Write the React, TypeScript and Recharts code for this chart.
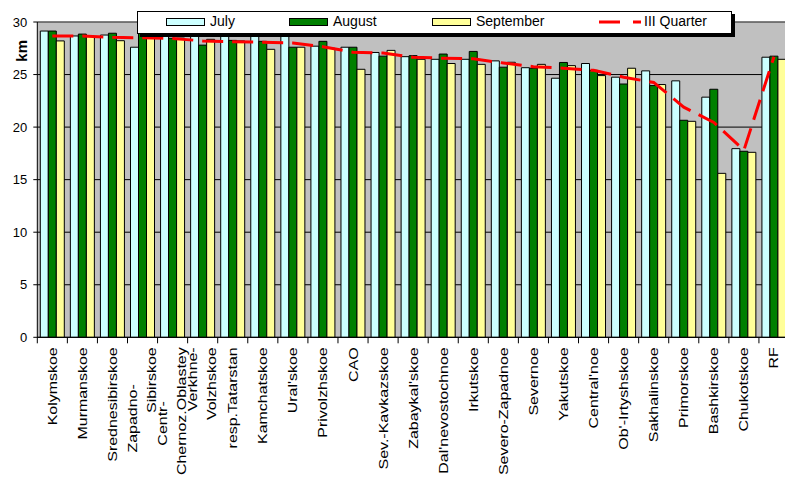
import React from "react";
import {
  ComposedChart,
  Bar,
  Line,
  XAxis,
  YAxis,
  CartesianGrid,
  Legend,
} from "recharts";

const categories = [
  "Kolymskoe", "Murmanskoe", "Srednesibirskoe", "Zapadno-Sibirskoe", "Centr-Chernoz.Oblastey",
  "Verkhne-Volzhskoe", "resp.Tatarstan", "Kamchatskoe", "Ural'skoe", "Privolzhskoe", "CAO",
  "Sev.-Kavkazskoe", "Zabaykal'skoe", "Dal'nevostochnoe", "Irkutskoe", "Severo-Zapadnoe",
  "Severnoe", "Yakutskoe", "Central'noe", "Ob'-Irtyshskoe", "Sakhalinskoe", "Primorskoe",
  "Bashkirskoe", "Chukotskoe", "RF",
];

const tickLabels: string[][] = [
  ["Kolymskoe"], ["Murmanskoe"], ["Srednesibirskoe"], ["Zapadno-", "Sibirskoe"],
  ["Centr-", "Chernoz.Oblastey"], ["Verkhne-", "Volzhskoe"], ["resp.Tatarstan"], ["Kamchatskoe"],
  ["Ural'skoe"], ["Privolzhskoe"], ["CAO"], ["Sev.-Kavkazskoe"], ["Zabaykal'skoe"],
  ["Dal'nevostochnoe"], ["Irkutskoe"], ["Severo-Zapadnoe"], ["Severnoe"], ["Yakutskoe"],
  ["Central'noe"], ["Ob'-Irtyshskoe"], ["Sakhalinskoe"], ["Primorskoe"], ["Bashkirskoe"],
  ["Chukotskoe"], ["RF"],
];

const july = [
  29.14, 28.67, 28.76, 27.6, 28.9, 28.7, 28.8, 28.8, 28.8, 27.7, 27.6, 27.1, 26.7, 26.45, 26.45,
  26.3, 25.65, 24.65, 26.05, 24.75, 25.35, 24.4, 22.85, 17.95, 26.65,
];
const august = [
  29.14, 28.85, 28.93, 28.9, 28.45, 27.8, 28.25, 28.16, 27.6, 28.16, 27.6, 26.75, 26.8, 26.95, 27.2,
  25.7, 25.6, 26.15, 25.4, 24.1, 23.95, 20.65, 23.6, 17.7, 26.75,
];
const september = [
  28.2, 28.62, 28.22, 28.5, 28.47, 28.35, 28.2, 27.4, 27.6, 27.5, 25.5, 27.3, 26.45, 26.05, 25.97,
  26.17, 25.97, 25.85, 24.9, 25.6, 24.05, 20.55, 15.6, 17.6, 26.45,
];
const quarter3 = [
  28.67, 28.67, 28.54, 28.5, 28.44, 28.2, 28.13, 28.08, 28.0, 27.65, 27.12, 27.05, 26.65, 26.55, 26.5,
  26.1, 25.75, 25.6, 25.4, 24.75, 24.25, 21.9, 20.45, 17.8, 26.7,
];
const yTicks = [0, 5, 10, 15, 20, 25, 30];

const data = categories.map((name, i) => ({
  name,
  july: july[i],
  august: august[i],
  september: september[i],
  q3: quarter3[i],
}));

const FONT = "'Liberation Sans', Arial, sans-serif";
const W = 785;
const H = 474;
const M = { top: 14, right: 4, left: 0, bottom: 0 };
const YW = 29.3;
const PLOT_W = W - M.left - M.right - YW;
const BAND = PLOT_W / categories.length;

// shift (px, along the axis direction) for the first line of wrapped labels
const wrapShift: Record<string, number> = {
  "Zapadno-Sibirskoe": 37,
  "Centr-Chernoz.Oblastey": 54,
  "Verkhne-Volzhskoe": 0,
};

const XTick = (props: any) => {
  const { x, y, index, payload } = props;
  const lines = tickLabels[index] || [String(payload.value)];
  const name = categories[index];
  const texts = lines.map((ln, li) => {
    let dx = 0;
    let dy = 10;
    if (lines.length === 2) {
      dx = li === 0 ? -10.5 : 8.5;
      dy = li === 0 ? 10 + (wrapShift[name] || 0) : 10;
    }
    return (
      <text
        key={li}
        transform={`translate(${x + dx},${y + dy}) rotate(-90) scale(1.2,1)`}
        textAnchor="end"
        dominantBaseline="central"
        fontSize={13.3}
        fontFamily={FONT}
        fill="#000"
      >
        {ln}
      </text>
    );
  });
  return (
    <g>
      <line x1={x - BAND / 2} x2={x - BAND / 2} y1={y} y2={y + 6} stroke="#000" />
      {index === categories.length - 1 && (
        <line x1={x + BAND / 2} x2={x + BAND / 2} y1={y} y2={y + 6} stroke="#000" />
      )}
      {texts}
    </g>
  );
};

const KmLabel = (props: any) => {
  const vb = props.viewBox || { x: 0, y: M.top };
  const cx = vb.x + 13.7;
  const cy = vb.y + 28.8;
  return (
    <text
      transform={`translate(${cx},${cy}) rotate(-90)`}
      textAnchor="middle"
      dominantBaseline="central"
      fontSize={15}
      fontWeight="bold"
      fontFamily={FONT}
      fill="#000"
    >
      km
    </text>
  );
};

const legendItems = [
  { label: "July", color: "#CCFFFF", sw: 29, tx: 73, kind: "bar" },
  { label: "August", color: "#008000", sw: 152, tx: 196, kind: "bar" },
  { label: "September", color: "#FFFF99", sw: 295, tx: 339, kind: "bar" },
  { label: "III Quarter", color: "#FF0000", sw: 462, tx: 507, kind: "line" },
];

const LegendBox = () => (
  <div
    style={{
      position: "relative",
      width: 595,
      height: 23,
      boxSizing: "border-box",
      border: "1px solid #000",
      background: "#fff",
      boxShadow: "3px 3px 0 #000",
      fontFamily: FONT,
      fontSize: 14,
      color: "#000",
    }}
  >
    {legendItems.map((it) =>
      it.kind === "bar" ? (
        <React.Fragment key={it.label}>
          <div
            style={{
              position: "absolute",
              left: it.sw - 1,
              top: 6,
              width: 39,
              height: 8,
              boxSizing: "border-box",
              border: "1px solid #000",
              background: it.color,
            }}
          />
          <div style={{ position: "absolute", left: it.tx - 1, top: 1, lineHeight: "16px", whiteSpace: "nowrap" }}>
            {it.label}
          </div>
        </React.Fragment>
      ) : (
        <React.Fragment key={it.label}>
          <svg style={{ position: "absolute", left: it.sw - 1, top: 8 }} width={42} height={4}>
            <line x1={0} x2={42} y1={2} y2={2} stroke={it.color} strokeWidth={3} strokeDasharray="21 13" />
          </svg>
          <div style={{ position: "absolute", left: it.tx - 1, top: 1, lineHeight: "16px", whiteSpace: "nowrap" }}>
            {it.label}
          </div>
        </React.Fragment>
      )
    )}
  </div>
);

export default function App() {
  return (
    <div style={{ width: W, height: H, background: "#fff" }}>
      <ComposedChart width={W} height={H} data={data} margin={M} barGap={0} barSize={8}>
        <CartesianGrid vertical={false} stroke="#000" fill="#C0C0C0" fillOpacity={1} />
        <CartesianGrid
          horizontalPoints={[M.top]}
          verticalPoints={[M.left + YW + PLOT_W]}
          stroke="#808080"
        />
        <XAxis
          dataKey="name"
          interval={0}
          height={H - M.top - M.bottom - 315.3}
          axisLine={{ stroke: "#000" }}
          tickLine={false}
          tickSize={0}
          tickMargin={0}
          tick={<XTick />}
        />
        <YAxis
          width={YW}
          domain={[0, 30]}
          ticks={yTicks}
          interval={0}
          axisLine={{ stroke: "#000" }}
          tickLine={{ stroke: "#000" }}
          tickSize={4}
          tickMargin={6}
          tick={{ fill: "#000", fontSize: 13, fontFamily: FONT }}
          label={<KmLabel />}
        />
        <Legend
          layout="horizontal"
          verticalAlign="middle"
          align="center"
          content={() => <LegendBox />}
          wrapperStyle={{ left: 129, top: 3, width: 600, height: 26 }}
        />
        <Bar dataKey="july" name="July" fill="#CCFFFF" stroke="#000" strokeWidth={1} isAnimationActive={false} />
        <Bar dataKey="august" name="August" fill="#008000" stroke="#000" strokeWidth={1} isAnimationActive={false} />
        <Bar dataKey="september" name="September" fill="#FFFF99" stroke="#000" strokeWidth={1} isAnimationActive={false} />
        <Line
          dataKey="q3"
          name="III Quarter"
          type="linear"
          stroke="#FF0000"
          strokeWidth={3}
          strokeDasharray="21 9"
          dot={false}
          activeDot={false}
          isAnimationActive={false}
        />
      </ComposedChart>
    </div>
  );
}
